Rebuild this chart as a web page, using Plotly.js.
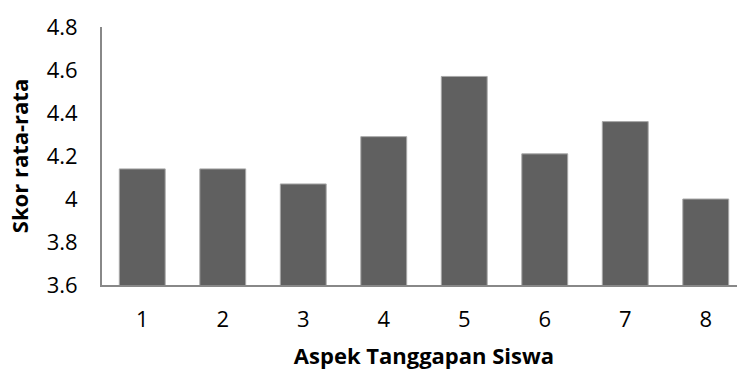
<!DOCTYPE html>
<html>
<head>
<meta charset="utf-8">
<script src="https://cdn.plot.ly/plotly-3.0.1.min.js"></script>
<style>
  html, body { margin: 0; padding: 0; overflow: hidden; background: #fff; }
  #chart { width: 746px; height: 370px; }
</style>
</head>
<body>
<div id="chart"></div>
<script>
// Average score per student-response aspect
const aspects = [1, 2, 3, 4, 5, 6, 7, 8];
const aspectLabels = ['1', '2', '3', '4', '5', '6', '7', '8'];
const meanScores = [4.14, 4.14, 4.07, 4.29, 4.57, 4.21, 4.36, 4.00];
const yTicks = [3.6, 3.8, 4, 4.2, 4.4, 4.6, 4.8];
const yTickLabels = ['3.6', '3.8', '4', '4.2', '4.4', '4.6', '4.8'];

const font = "'Open Sans', sans-serif";

Plotly.newPlot('chart', [{
  type: 'bar',
  x: aspects,
  y: meanScores,
  width: 0.57,
  marker: { color: '#606060', line: { color: '#a8a8a8', width: 1 } },
  hoverinfo: 'skip'
}], {
  width: 746,
  height: 370,
  margin: { l: 102, r: 0, t: 27, b: 85 },
  paper_bgcolor: '#fff',
  plot_bgcolor: '#fff',
  showlegend: false,
  font: { family: font, color: '#000' },
  xaxis: {
    type: 'linear',
    range: [0.5, 8.5],
    tickvals: aspects,
    ticktext: aspectLabels,
    showgrid: false,
    zeroline: false,
    showline: true,
    linecolor: '#888',
    linewidth: 2,
    ticks: '',
    ticklabelstandoff: 14,
    tickfont: { size: 22, family: font },
    title: { text: 'Aspek Tanggapan Siswa', font: { size: 22, family: font, weight: 'bold' }, standoff: 18 }
  },
  yaxis: {
    range: [3.6, 4.8],
    tickvals: yTicks,
    ticktext: yTickLabels,
    showgrid: false,
    zeroline: false,
    showline: true,
    linecolor: '#888',
    linewidth: 2,
    ticks: '',
    ticklabelstandoff: 18,
    tickfont: { size: 22, family: font },
    title: { text: 'Skor rata-rata', font: { size: 22, family: font, weight: 'bold' }, standoff: 12 }
  }
}, { displayModeBar: false, staticPlot: true });
</script>
</body>
</html>
